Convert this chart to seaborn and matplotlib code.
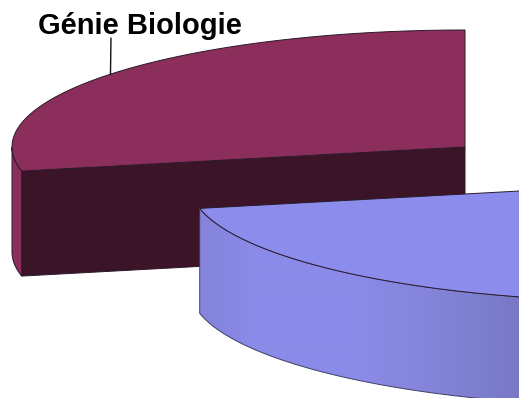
import numpy as np
import matplotlib
matplotlib.use("Agg")
import matplotlib.pyplot as plt
from matplotlib.patches import Polygon
import seaborn as sns

# Pie data
labels = ["Génie Biologie", ""]
shares = [28.3, 71.7]
exploded = [0.0, 0.506]

# Colours for each slice
top_colors = ["#8B2E5C", "#8C8CEC"]
front_colors = ["#3C1428", "#8A8AE8"]
side_colors = ["#8B2E5C", "#8A8AE8"]
line_color = "#2A1A2A"

# Projected pie geometry, in canvas pixels
CENTER = (465.0, 147.0)
RX, RY = 453.0, 117.0
DEPTH = 105.0

sns.set_theme(style="white")
plt.rcParams["font.family"] = ["Liberation Sans", "DejaVu Sans"]

fig = plt.figure(figsize=(5.19, 3.98), dpi=100)
ax = fig.add_axes([0, 0, 1, 1])
ax.set_xlim(0, 519)
ax.set_ylim(398, 0)
ax.set_autoscale_on(False)
ax.axis("off")


def rim(t_deg, origin, dz=0.0):
    """Rim points for angles measured counter-clockwise from twelve o'clock."""
    t = np.radians(t_deg)
    return np.column_stack([origin[0] - RX * np.sin(t),
                            origin[1] - RY * np.cos(t) + dz])


def draw_slice(start, sweep, explode, top, front, side, shaded=None):
    mid = np.radians(start + sweep / 2)
    origin = (CENTER[0] - explode * RX * np.sin(mid),
              CENTER[1] - explode * RY * np.cos(mid))
    t = np.linspace(start, start + sweep, 500)
    top_rim = rim(t, origin)
    centre = np.array(origin)
    drop = np.array([0, DEPTH])

    # Cut face running from the rim back to the centre, for the slice that shows it
    if start == 0:
        end = top_rim[-1]
        ax.add_patch(Polygon([end, centre, centre + drop, end + drop],
                             fc=front, ec=line_color, lw=0.7, zorder=2))

    # Curved outer wall: flat, or a horizontal colour ramp clipped to the wall outline
    visible = t[(t > 90) & (top_rim[:, 0] < 560)]
    wall = Polygon(np.vstack([rim(visible, origin), rim(visible, origin, DEPTH)[::-1]]),
                   fc=side if shaded is None else "none",
                   ec=line_color if shaded is None else "#3F3F66",
                   lw=0.7, zorder=2.5)
    ax.add_patch(wall)
    if shaded is not None:
        ramp = np.array(sns.blend_palette(shaded, 320))[np.newaxis, :, :]
        left, right = rim(visible, origin)[0, 0], 519
        image = ax.imshow(ramp, extent=(left, right, 398, 0), aspect="auto",
                          interpolation="bilinear", zorder=2)
        image.set_clip_path(wall)

    # Top face
    ax.add_patch(Polygon(np.vstack([top_rim, centre]),
                         fc=top, ec=line_color, lw=0.7, zorder=3))
    return origin


angle = 0.0
wall_ramp = ["#8484DC", "#8A8AE8", "#8A8AE8", "#8A8AE8", "#8686DE", "#8080D2", "#7878C6"]
for i, share in enumerate(shares):
    sweep = share / sum(shares) * 360
    draw_slice(angle, sweep, exploded[i], top_colors[i], front_colors[i],
               side_colors[i], shaded=wall_ramp if i == 1 else None)
    angle += sweep

# Category label with its leader line
anchor = rim(np.array([51.5]), CENTER)[0]
ax.plot([anchor[0], anchor[0] + 0.5], [anchor[1], 38], color="#111111", lw=1.0, zorder=4)
ax.text(140, 25.5, labels[0], ha="center", va="center", fontsize=21,
        fontweight="bold", color="black", zorder=5)

fig.savefig("out.png", dpi=100, facecolor="white")
